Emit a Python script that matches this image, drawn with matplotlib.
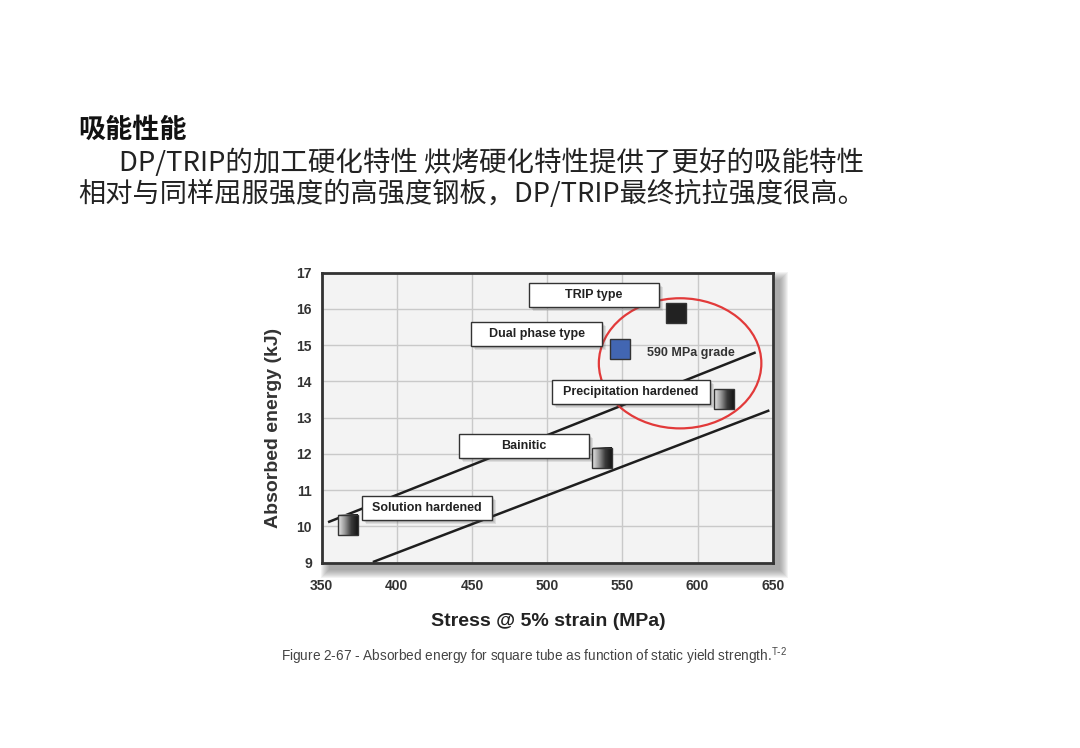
import numpy as np
import matplotlib
matplotlib.use("Agg")
import matplotlib.pyplot as plt
from matplotlib.patches import Rectangle, Ellipse
from matplotlib.colors import LinearSegmentedColormap
import matplotlib.transforms as mtransforms

# data
materials = ['Solution hardened', 'Bainitic', 'Precipitation hardened', 'Dual phase type', 'TRIP type']
stress = [367.4, 536.5, 617.7, 548.2, 586.0]
energy = [10.04, 11.88, 13.51, 14.90, 15.90]
marker_style = ['gradient', 'gradient', 'gradient', 'blue', 'black']

# label boxes (centre of each box, data units)
label_x = [419.9, 484.5, 555.7, 492.9, 531.1]
label_y = [10.50, 12.21, 13.70, 15.30, 16.39]
label_w = [86.6, 86.6, 104.9, 86.6, 86.6]

# trend lines
upper_x = [355.0, 637.9]
upper_y = [10.13, 14.79]
lower_x = [384.8, 647.0]
lower_y = [9.03, 13.19]

x_ticks = [350, 400, 450, 500, 550, 600, 650]
y_ticks = [9, 10, 11, 12, 13, 14, 15, 16, 17]

grade_text = '590 MPa grade'
grade_center = (588.4, 14.50)
grade_size = (108.1, 3.59)

W, H = 1080, 748
fig = plt.figure(figsize=(W / 100, H / 100), dpi=100)
fig.patch.set_facecolor('white')

cjk = ['Noto Sans CJK SC', 'DejaVu Sans']
fig.text(78 / W, 1 - 130 / H, '吸能性能', family=cjk, fontsize=19.5, fontweight='bold',
         va='center', ha='left', color='#111111')
fig.text(119 / W, 1 - 163 / H, 'DP/TRIP的加工硬化特性 烘烤硬化特性提供了更好的吸能特性', family=cjk,
         fontsize=19.8, va='center', ha='left', color='#222222')
fig.text(78 / W, 1 - 194 / H, '相对与同样屈服强度的高强度钢板，DP/TRIP最终抗拉强度很高。', family=cjk,
         fontsize=19.6, va='center', ha='left', color='#222222')

# axes frame in pixels
ax_l, ax_r, ax_t, ax_b = 321.7, 772.7, 272.7, 562.7


def px_box(x0, y0, x1, y1):
    return [x0 / W, 1 - y1 / H, (x1 - x0) / W, (y1 - y0) / H]


# drop shadow behind the plot frame
for k in range(9):
    g = k * 1.0
    r = px_box(ax_l + 7 - g, ax_t + 7 - g, ax_r + 7 + g, ax_b + 7 + g)
    fig.patches.append(Rectangle((r[0], r[1]), r[2], r[3], transform=fig.transFigure,
                                 facecolor='#555555', edgecolor='none', alpha=0.07, zorder=0))

ax = fig.add_axes(px_box(ax_l, ax_t, ax_r, ax_b))
ax.set_facecolor('#f3f3f3')
ax.set_zorder(1)

sans = 'Liberation Sans'
ax.set_xlim(350, 650)
ax.set_ylim(9, 17)
ax.set_xticks(x_ticks)
ax.set_yticks(y_ticks)
ax.set_xticklabels([str(v) for v in x_ticks], fontsize=10, fontweight='bold', family=sans, color='#333333')
ax.set_yticklabels([str(v) for v in y_ticks], fontsize=10, fontweight='bold', family=sans, color='#333333')
ax.tick_params(axis='x', length=0, pad=12)
ax.tick_params(axis='y', length=0, pad=7)
ax.grid(True, color='#c9c9c9', linewidth=1.0)
ax.set_axisbelow(True)
for s in ax.spines.values():
    s.set_linewidth(2)
    s.set_color('#333333')

ax.plot(upper_x, upper_y, color='#1e1e1e', linewidth=1.8, zorder=2)
ax.plot(lower_x, lower_y, color='#1e1e1e', linewidth=1.8, zorder=2)

ax.add_patch(Ellipse(grade_center, grade_size[0], grade_size[1], fill=False,
                     edgecolor='#e23a3a', linewidth=1.6, zorder=3))
ax.text(595.7, 14.79, grade_text, fontsize=9, fontweight='bold', family=sans,
        color='#333333', ha='center', va='center', zorder=4)

for name, lx, ly, lw in zip(materials, label_x, label_y, label_w):
    bh = 0.66
    for k in range(4):
        ax.add_patch(Rectangle((lx - lw / 2, ly - bh / 2), lw, bh, transform=mtransforms.offset_copy(
            ax.transData, fig=fig, x=1 + k, y=-(1 + k), units='dots'),
            facecolor='#444444', edgecolor='none', alpha=0.12, zorder=4))
    ax.add_patch(Rectangle((lx - lw / 2, ly - bh / 2), lw, bh, facecolor='white',
                           edgecolor='#333333', linewidth=1.0, zorder=5))
    ax.text(lx, ly, name, fontsize=9, fontweight='bold', family=sans, color='#222222',
            ha='center', va='center', zorder=6)

# square markers, 20 px wide
hx = 10 * 300 / (ax_r - ax_l)
hy = 10 * 8 / (ax_b - ax_t)
grad = LinearSegmentedColormap.from_list('g', ['#e8e8e8', '#9a9a9a', '#3a3a3a', '#151515'])
for sx, sy, st in zip(stress, energy, marker_style):
    ext = [sx - hx, sx + hx, sy - hy, sy + hy]
    if st == 'gradient':
        ax.imshow(np.linspace(0, 1, 64).reshape(1, -1), cmap=grad, extent=ext,
                  aspect='auto', zorder=7, interpolation='bilinear')
        face = 'none'
    elif st == 'blue':
        face = '#4266b2'
    else:
        face = '#222222'
    ax.add_patch(Rectangle((ext[0], ext[2]), 2 * hx, 2 * hy, facecolor=face,
                           edgecolor='#333333', linewidth=1.0, zorder=8))

ax.set_xlim(350, 650)
ax.set_ylim(9, 17)

fig.text(273 / W, 1 - 428 / H, 'Absorbed energy (kJ)', rotation=90, fontsize=14,
         fontweight='bold', family=sans, color='#333333', ha='center', va='center')
fig.text(548 / W, 1 - 621 / H, 'Stress @ 5% strain (MPa)', fontsize=14,
         fontweight='bold', family=sans, color='#222222', ha='center', va='center')
fig.text(281 / W, 1 - 656 / H,
         'Figure 2-67 - Absorbed energy for square tube as function of static yield strength.$^{\\mathregular{T\\text{-}2}}$',
         fontsize=9.8, family=sans, color='#444444', ha='left', va='center')

fig.savefig('out.png', dpi=100)
